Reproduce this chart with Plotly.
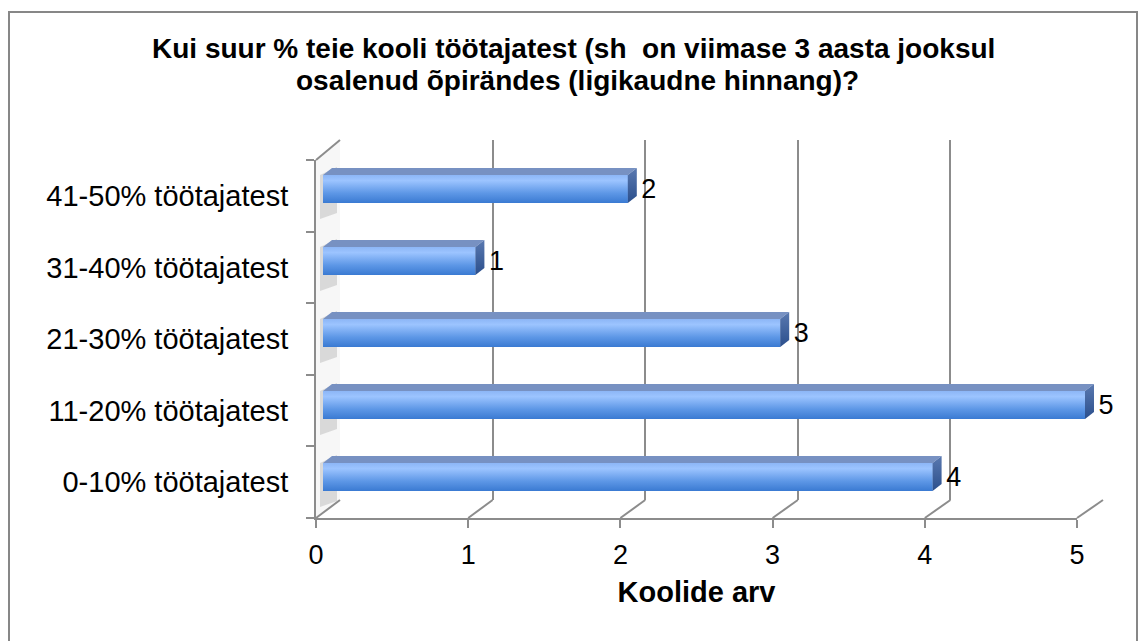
import plotly.graph_objects as go

# ---------------- data ----------------
categories = ["0-10% töötajatest", "11-20% töötajatest", "21-30% töötajatest",
              "31-40% töötajatest", "41-50% töötajatest"]
values = [4, 5, 3, 1, 2]
x_ticks = [0, 1, 2, 3, 4, 5]
title_lines = ["<b>Kui suur % teie kooli töötajatest (sh  on viimase 3 aasta jooksul</b>",
               "<b>osalenud õpirändes (ligikaudne hinnang)?</b>"]
x_title = "<b>Koolide arv</b>"

# ---------------- layout geometry (pixels) ----------------
W, H = 1148, 641
def px(v): return v / W
def py(v): return 1 - v / H

FONT = "Liberation Sans, Arial, sans-serif"
GRID = "#8c8c8c"

FX0, FX1, FYB, FYT = 316, 1077, 518, 160   # front plane
BX0, BX1, BYB, BYT = 340, 1103, 500, 140   # back plane
RX0, RX1, RYB, RYT = 323, 1085, 513, 153   # bar plane

XMAX = 5
XPAD = 5.3                                  # bar axis range (room for 3D side)
n = len(categories)
bar_w = 0.39
unit = (RX1 - RX0) / XMAX
dx = 9 / unit                               # depth in value units
dy = 7 / ((RYB - RYT) / n)                  # depth in category units

fig = go.Figure()

# back-wall grid subplot (x, y)
fig.add_trace(go.Scatter(x=[], y=[], xaxis="x", yaxis="y", showlegend=False, hoverinfo="skip"))
# front axes subplot (x2, y2)
fig.add_trace(go.Scatter(x=[None], y=[categories[0]], xaxis="x2", yaxis="y2",
                         showlegend=False, hoverinfo="skip", mode="markers"))

# bars (x3, y3)
fig.add_trace(go.Bar(x=values, y=categories, orientation="h", width=bar_w,
                     marker=dict(color="#6a9fec", line=dict(width=0)),
                     xaxis="x3", yaxis="y3", showlegend=False, cliponaxis=False))

# 3D faces on numeric overlay axis y4
for i, v in enumerate(values):
    lo, hi = i - bar_w / 2, i + bar_w / 2
    fig.add_trace(go.Scatter(
        x=[0, v, v, 0, 0], y=[lo, lo, hi, hi, lo], mode="lines", fill="toself",
        line=dict(width=0), hoverinfo="skip", showlegend=False, cliponaxis=False,
        fillgradient=dict(type="vertical",
                          colorscale=[[0, "#3a7ad2"], [0.35, "#5d97e6"],
                                      [0.8, "#9cc4ff"], [1, "#8cb6f6"]]),
        xaxis="x3", yaxis="y4"))
    fig.add_trace(go.Scatter(
        x=[0, v, v + dx, dx, 0], y=[hi, hi, hi + dy, hi + dy, hi], mode="lines",
        fill="toself", fillcolor="#7791c2", line=dict(width=0), cliponaxis=False,
        hoverinfo="skip", showlegend=False, xaxis="x3", yaxis="y4"))
    fig.add_trace(go.Scatter(
        x=[v, v + dx, v + dx, v, v], y=[lo, lo + dy, hi + dy, hi, lo], mode="lines",
        fill="toself", line=dict(width=0), cliponaxis=False,
        fillgradient=dict(type="vertical",
                          colorscale=[[0, "#2b4f8c"], [1, "#5a79b0"]]),
        hoverinfo="skip", showlegend=False, xaxis="x3", yaxis="y4"))

# data labels
fig.add_trace(go.Scatter(
    x=[v + dx + 0.03 for v in values], y=[i - 0.03 for i in range(n)], mode="text",
    text=[str(v) for v in values], textposition="middle right", cliponaxis=False,
    textfont=dict(family=FONT, size=27, color="#000000"),
    hoverinfo="skip", showlegend=False, xaxis="x3", yaxis="y4"))

shapes = []
# left wall fill
shapes.append(dict(type="path", xref="paper", yref="paper", layer="below",
                   path=f"M {px(FX0)} {py(FYT)} L {px(BX0)} {py(BYT)} L {px(BX0)} {py(BYB)} L {px(FX0)} {py(FYB)} Z",
                   fillcolor="#f7f7f7", line=dict(width=0)))
# wall shadows behind bars
cat_h = (RYB - RYT) / n
for i in range(n):
    yc = RYB - (i + 0.5) * cat_h
    t, b = yc - 22, yc + 24
    shapes.append(dict(type="path", xref="paper", yref="paper", layer="below",
                       path=f"M {px(FX0+4)} {py(t+8)} L {px(BX0-3)} {py(t)} L {px(BX0-3)} {py(b)} L {px(FX0+4)} {py(b+6)} Z",
                       fillcolor="rgba(160,160,160,0.35)", line=dict(width=0)))
# top-left diagonal
shapes.append(dict(type="line", xref="paper", yref="paper", layer="below",
                   x0=px(FX0), y0=py(FYT), x1=px(BX0), y1=py(BYT),
                   line=dict(color=GRID, width=2)))
# floor diagonals
for t in x_ticks:
    fxp = FX0 + t * (FX1 - FX0) / XMAX
    bxp = BX0 + t * (BX1 - BX0) / XMAX
    shapes.append(dict(type="line", xref="paper", yref="paper", layer="below",
                       x0=px(fxp), y0=py(FYB), x1=px(bxp), y1=py(BYB),
                       line=dict(color=GRID, width=2)))
# chart border
shapes.append(dict(type="rect", xref="paper", yref="paper", layer="above",
                   x0=px(9), x1=px(1137), y0=-0.05, y1=py(12),
                   line=dict(color="#878787", width=2), fillcolor="rgba(0,0,0,0)"))

annotations = [
    dict(text=title_lines[0], xref="paper", yref="paper", x=px(573), y=py(49),
         xanchor="center", yanchor="middle", showarrow=False,
         font=dict(family=FONT, size=28, color="#000000")),
    dict(text=title_lines[1], xref="paper", yref="paper", x=px(577), y=py(81),
         xanchor="center", yanchor="middle", showarrow=False,
         font=dict(family=FONT, size=28, color="#000000")),
]

fig.update_layout(
    width=W, height=H,
    margin=dict(l=0, r=0, t=0, b=0, autoexpand=False),
    paper_bgcolor="white", plot_bgcolor="rgba(0,0,0,0)",
    showlegend=False,
    shapes=shapes,
    annotations=annotations,
    # back grid
    xaxis=dict(domain=[px(BX0), px(BX1)], range=[0, XMAX], anchor="y",
               showgrid=True, gridcolor=GRID, gridwidth=2, tickvals=x_ticks,
               showticklabels=False, ticks="", zeroline=False, showline=False),
    yaxis=dict(domain=[py(BYB), py(BYT)], range=[0, 1], anchor="x",
               visible=False, showgrid=False, zeroline=False),
    # front axes
    xaxis2=dict(domain=[px(FX0), px(FX1)], range=[0, XMAX], anchor="y2",
                tickvals=x_ticks, showgrid=False, zeroline=False,
                showline=True, linecolor=GRID, linewidth=2,
                ticks="outside", ticklen=8, tickwidth=2, tickcolor=GRID,
                ticklabelstandoff=4,
                tickfont=dict(family=FONT, size=27, color="#000000"),
                title=dict(text=x_title, standoff=12,
                           font=dict(family=FONT, size=29, color="#000000"))),
    yaxis2=dict(domain=[py(FYB), py(FYT)], type="category",
                categoryorder="array", categoryarray=categories,
                range=[-0.5, n - 0.5], anchor="x2",
                showgrid=False, zeroline=False,
                showline=True, linecolor=GRID, linewidth=2,
                ticks="outside", tickson="boundaries", ticklen=8, tickwidth=2,
                tickcolor=GRID, ticklabelstandoff=20,
                tickfont=dict(family=FONT, size=29, color="#000000")),
    # bars
    xaxis3=dict(domain=[px(RX0), px(RX0 + XPAD * unit)], range=[0, XPAD], anchor="y3",
                visible=False, showgrid=False, zeroline=False),
    yaxis3=dict(domain=[py(RYB), py(RYT)], type="category",
                categoryorder="array", categoryarray=categories,
                range=[-0.5, n - 0.5], anchor="x3",
                visible=False, showgrid=False, zeroline=False),
    yaxis4=dict(overlaying="y3", range=[-0.5, n - 0.5], anchor="x3",
                visible=False, showgrid=False, zeroline=False),
)

fig.write_html("out.html", config={"displayModeBar": False},
               post_script="document.body.style.margin='0';document.body.style.padding='0';")
